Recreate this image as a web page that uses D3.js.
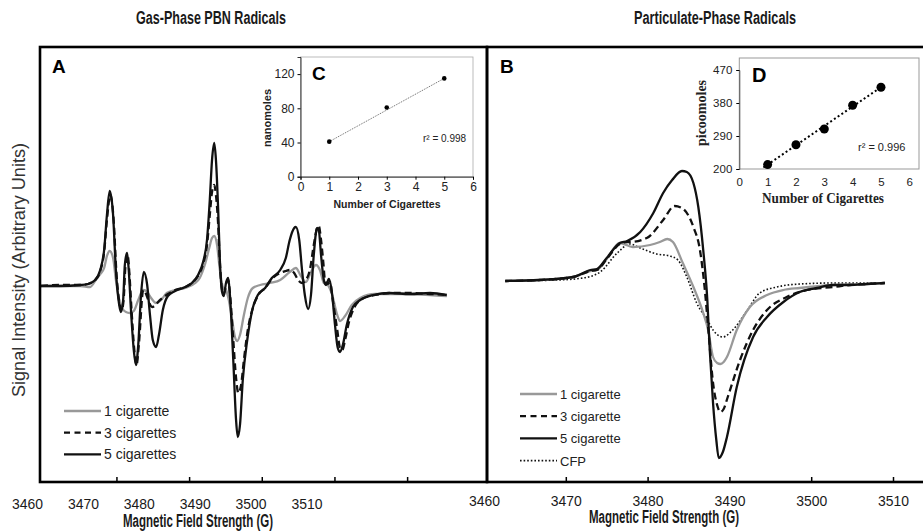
<!DOCTYPE html>
<html>
<head>
<meta charset="utf-8">
<script src="https://cdn.jsdelivr.net/npm/d3@7"></script>
<style>
  body { margin: 0; background: #fff; }
  svg { display: block; font-family: "Liberation Sans", Arial, sans-serif; }
</style>
</head>
<body>
<svg id="chart" width="923" height="531"></svg>
<script>
// ---- datos ----
// Panel A: espectros de radicales PBN (campo en G, señal en unidades arbitrarias)
const gas1 = [[3462.5,-1],[3469.5,-1],[3471.3,-2],[3472.3,5],[3473.1,11],[3473.8,17],[3474.3,29],[3474.8,34],[3475.4,27],[3475.9,5],[3476.5,-15],[3477.0,-23],[3477.7,-27],[3478.4,-28],[3479.1,-26],[3479.9,-15],[3480.8,-5],[3481.5,-7],[3482.2,-13],[3483.1,-18],[3484.0,-15],[3485.0,-8],[3486.5,-5],[3488.3,-3],[3490.1,2],[3490.9,7],[3491.8,20],[3492.6,37],[3493.1,47],[3493.5,49],[3494.0,40],[3494.5,15],[3495.1,-3],[3495.6,-5],[3496.1,-15],[3496.7,-35],[3497.2,-52],[3497.6,-56],[3498.1,-50],[3498.8,-30],[3499.5,-13],[3500.4,-3],[3501.7,0],[3503.5,2],[3505.3,5],[3507.0,13],[3508.1,17],[3509.0,9],[3509.9,3],[3510.8,13],[3511.7,20],[3512.4,15],[3513.1,2],[3513.8,0],[3514.6,-10],[3515.5,-30],[3516.0,-36],[3516.9,-31],[3518.1,-20],[3519.6,-13],[3522.3,-9],[3526.7,-9],[3532.1,-10],[3535.1,-11]];
const gas3 = [[3462.5,-1],[3465.9,0],[3469.5,0],[3470.9,1],[3472.2,5],[3473.1,14],[3473.8,33],[3474.3,65],[3474.9,90],[3475.5,65],[3476.0,12],[3476.6,-20],[3476.9,-26],[3477.3,-14],[3477.6,18],[3478.0,30],[3478.3,13],[3478.7,-25],[3479.2,-65],[3479.6,-80],[3480.0,-60],[3480.8,-5],[3482.4,-22],[3483.8,-15],[3485.2,-9],[3486.5,-5],[3488.3,-2],[3489.5,2],[3490.6,9],[3491.5,21],[3492.2,40],[3492.7,70],[3493.1,93],[3493.5,100],[3493.8,90],[3494.2,60],[3494.5,23],[3494.9,-5],[3495.2,-9],[3495.6,1],[3496.0,5],[3496.3,-8],[3496.9,-55],[3497.4,-93],[3497.8,-108],[3498.3,-100],[3498.8,-75],[3499.5,-45],[3500.4,-23],[3501.5,-9],[3502.6,-3],[3503.8,6],[3505.3,12],[3506.3,14],[3507.0,15],[3507.8,12],[3508.5,5],[3509.2,2],[3509.9,5],[3510.6,15],[3511.3,40],[3511.9,57],[3512.2,59],[3512.6,45],[3513.0,23],[3513.3,5],[3513.8,1],[3514.2,3],[3514.7,-15],[3515.5,-45],[3516.0,-63],[3516.4,-65],[3516.9,-55],[3517.6,-37],[3518.7,-21],[3519.9,-14],[3522.3,-10],[3524.9,-8],[3528.5,-8],[3532.1,-9],[3535.1,-10]];
const gas5 = [[3462.5,-1],[3465.9,-1],[3469.5,0],[3470.9,1],[3472.2,5],[3473.1,15],[3473.8,35],[3474.3,70],[3474.8,94],[3475.4,70],[3475.9,15],[3476.5,-20],[3476.8,-27],[3477.2,-15],[3477.5,20],[3477.9,32],[3478.2,15],[3478.6,-25],[3479.1,-65],[3479.5,-80],[3479.9,-60],[3480.4,-10],[3480.9,13],[3481.5,0],[3482.0,-30],[3482.5,-55],[3483.1,-62],[3483.6,-50],[3484.3,-25],[3485.2,-11],[3486.5,-6],[3488.3,-2],[3489.5,2],[3490.6,10],[3491.5,23],[3492.2,45],[3492.7,85],[3493.1,125],[3493.5,142],[3493.8,125],[3494.2,75],[3494.5,25],[3494.9,-7],[3495.2,-11],[3495.6,2],[3496.0,7],[3496.3,-10],[3496.9,-75],[3497.4,-135],[3497.7,-152],[3498.1,-140],[3498.6,-95],[3499.4,-55],[3500.3,-25],[3501.3,-10],[3502.6,-3],[3503.8,7],[3505.3,15],[3506.3,27],[3507.0,45],[3507.8,57],[3508.1,58],[3508.7,45],[3509.2,15],[3509.7,-10],[3510.3,-24],[3510.8,-10],[3511.3,30],[3511.9,57],[3512.2,55],[3512.6,30],[3513.1,5],[3513.5,0],[3514.0,6],[3514.6,-10],[3515.1,-40],[3515.6,-63],[3516.0,-67],[3516.5,-60],[3517.2,-40],[3518.3,-22],[3519.6,-15],[3521.9,-10],[3524.9,-8],[3528.5,-9],[3532.1,-8],[3535.1,-10]];

// Panel B: radicales en fase particulada
const part1 = [[3462.6,4],[3466.8,5],[3470.9,8],[3473.0,14],[3473.8,15],[3475.0,26],[3476.6,42],[3478.2,38],[3480.3,40],[3481.5,43],[3482.4,46],[3483.1,43],[3484.3,22],[3485.6,-2],[3486.8,-28],[3487.4,-45],[3488.0,-72],[3488.5,-78],[3488.9,-79],[3489.3,-77],[3489.7,-72],[3490.9,-45],[3492.5,-22],[3494.6,-10],[3496.6,-5],[3498.6,-3],[3502.7,0],[3506.8,1],[3509.0,2]];
const part3 = [[3462.6,4],[3466.8,5],[3470.9,8],[3473.0,14],[3473.8,15],[3475.0,26],[3476.6,41],[3477.5,43],[3477.8,43],[3479.9,47],[3481.9,65],[3483.3,79],[3484.2,77],[3485.6,58],[3486.4,35],[3487.0,-5],[3487.4,-42],[3488.0,-98],[3488.5,-120],[3488.9,-127],[3489.3,-124],[3489.8,-112],[3491.3,-75],[3492.9,-45],[3494.6,-25],[3497.0,-12],[3499.5,-5],[3502.7,-2],[3504.7,0],[3506.8,1],[3509.0,2]];
const part5 = [[3462.6,4],[3466.8,5],[3470.9,8],[3473.0,15],[3473.8,16],[3475.0,27],[3476.6,42],[3477.5,44],[3479.1,53],[3480.7,72],[3481.9,92],[3483.0,105],[3484.2,114],[3484.8,113],[3485.6,102],[3486.2,78],[3486.8,35],[3487.3,-15],[3487.6,-65],[3488.0,-118],[3488.4,-155],[3488.7,-173],[3489.2,-167],[3489.7,-152],[3490.9,-102],[3492.9,-52],[3494.6,-32],[3496.6,-17],[3498.6,-7],[3500.7,-3],[3502.7,0],[3504.7,0],[3506.8,1],[3509.0,2]];
const cfp = [[3462.6,4],[3468.9,5],[3472.1,7],[3474.2,13],[3476.3,32],[3477.8,41],[3479.1,37],[3481.1,31],[3482.7,29],[3483.7,25],[3484.8,8],[3486.0,-18],[3487.3,-35],[3488.0,-45],[3489.2,-52],[3490.4,-45],[3492.2,-25],[3493.7,-8],[3495.8,-2],[3498.6,1],[3502.7,2],[3509.0,2]];

const fieldTicks = [3460, 3470, 3480, 3490, 3500, 3510];
const frameTicksA = [3476, 3489, 3502, 3515, 3528];
const frameTicksB = [3470, 3480, 3490, 3500, 3510];

// Inset C: nanomoles vs número de cigarrillos
const cigC = [1, 3, 5];
const nmolC = [41, 81, 115];
// Inset D: picomoles vs número de cigarrillos
const cigD = [1, 2, 3, 4, 5];
const pmolD = [212, 266, 309, 374, 423];

const svg = d3.select("#chart");

// Texto "estrecho" (tipo Arial Narrow) comprimiendo Liberation Sans
function narrowText(x, y, txt, size, len, weight) {
  return svg.append("text").attr("x", x).attr("y", y)
    .attr("text-anchor", "middle").attr("font-size", size)
    .attr("font-weight", weight || "bold").attr("fill", "#1a1a1a")
    .attr("textLength", len).attr("lengthAdjust", "spacingAndGlyphs")
    .text(txt);
}

// Títulos de columna
narrowText(211, 24, "Gas-Phase PBN Radicals", 18, 150);
narrowText(715, 24, "Particulate-Phase Radicals", 18, 162);

// Escalas
const xA = d3.scaleLinear().domain([3460, 3510]).range([27, 306.5]);
const xB = d3.scaleLinear().domain([3460, 3510]).range([484, 893]);
const yS = d3.scaleLinear().domain([-200, 200]).range([485, 85]);

const line = (xs) => d3.line().x(d => xs(d[0])).y(d => yS(d[1])).curve(d3.curveMonotoneX);

// Estilos de serie
function drawSeries(g, data, xs, style) {
  g.append("path").datum(data)
    .attr("fill", "none")
    .attr("stroke", style.color)
    .attr("stroke-width", style.width)
    .attr("stroke-dasharray", style.dash)
    .attr("stroke-linejoin", "round")
    .attr("d", line(xs));
}
const sGrey = {color: "#999", width: 2.3, dash: null};
const sDash = {color: "#111", width: 2.3, dash: "7,4"};
const sSolid = {color: "#111", width: 2.3, dash: null};
const sDot = {color: "#111", width: 1.6, dash: "1.6,2"};

// Panel A
const gA = svg.append("g");
drawSeries(gA, gas1, xA, sGrey);
drawSeries(gA, gas3, xA, sDash);
drawSeries(gA, gas5, xA, sSolid);

// Panel B
const gB = svg.append("g");
drawSeries(gB, cfp, xB, sDot);
drawSeries(gB, part1, xB, sGrey);
drawSeries(gB, part3, xB, sDash);
drawSeries(gB, part5, xB, sSolid);

// Marcos
const frameTop = 47, frameBottom = 482;
svg.append("rect").attr("x", 40).attr("y", frameTop).attr("width", 447).attr("height", frameBottom - frameTop)
  .attr("fill", "none").attr("stroke", "#000").attr("stroke-width", 2.6);
svg.append("rect").attr("x", 487).attr("y", frameTop).attr("width", 445).attr("height", frameBottom - frameTop)
  .attr("fill", "none").attr("stroke", "#000").attr("stroke-width", 2.6);

// Marcas internas sobre el borde inferior
svg.append("g").attr("transform", `translate(0,${frameBottom})`)
  .call(d3.axisTop(xA).tickValues(frameTicksA).tickSize(5).tickFormat(""))
  .call(g => g.select(".domain").remove())
  .selectAll("line").attr("stroke", "#000").attr("stroke-width", 1.5);
svg.append("g").attr("transform", `translate(0,${frameBottom})`)
  .call(d3.axisTop(xB).tickValues(frameTicksB).tickSize(5).tickFormat(""))
  .call(g => g.select(".domain").remove())
  .selectAll("line").attr("stroke", "#000").attr("stroke-width", 1.5);

// Etiquetas del eje de campo
function fieldAxis(xs, y) {
  svg.append("g").attr("transform", `translate(0,${y})`)
    .call(d3.axisBottom(xs).tickValues(fieldTicks).tickSize(0).tickPadding(4).tickFormat(d3.format("d")))
    .call(g => g.select(".domain").remove())
    .selectAll("text")
    .style("font-family", "'Liberation Sans', Arial, sans-serif")
    .attr("font-size", 15).attr("fill", "#1a1a1a")
    .attr("textLength", 31).attr("lengthAdjust", "spacingAndGlyphs");
}
fieldAxis(xA, 494);
fieldAxis(xB, 491);

narrowText(198, 527, "Magnetic Field Strength (G)", 18, 150);
narrowText(664, 523, "Magnetic Field Strength (G)", 18, 150);

svg.append("text").attr("transform", "translate(25,270) rotate(-90)")
  .attr("text-anchor", "middle").attr("font-size", 17.5).attr("fill", "#333")
  .attr("textLength", 254).attr("lengthAdjust", "spacingAndGlyphs")
  .text("Signal Intensity (Arbitrary Units)");

svg.append("text").attr("x", 52).attr("y", 73).attr("font-size", 19).attr("font-weight", "bold").text("A");
svg.append("text").attr("x", 500).attr("y", 73).attr("font-size", 19).attr("font-weight", "bold").text("B");

// Leyendas
function legend(items, x0, y0, dy, fs) {
  items.forEach((it, i) => {
    const y = y0 + i * dy;
    svg.append("line").attr("x1", x0).attr("x2", x0 + 37).attr("y1", y).attr("y2", y)
      .attr("stroke", it.s.color).attr("stroke-width", it.s.width)
      .attr("stroke-dasharray", it.s.dash === "7,4" ? "6,4.5" : it.s.dash);
    svg.append("text").attr("x", x0 + 40).attr("y", y + 5).attr("font-size", fs)
      .attr("fill", "#222").text(it.label);
  });
}
legend([{s: sGrey, label: "1 cigarette"}, {s: sDash, label: "3 cigarettes"}, {s: sSolid, label: "5 cigarettes"}], 64, 411, 21.7, 14);
legend([{s: sGrey, label: "1 cigarette"}, {s: sDash, label: "3 cigarette"}, {s: sSolid, label: "5 cigarette"}, {s: sDot, label: "CFP"}], 520, 394, 22.2, 13);

// Inset C
{
  const x = d3.scaleLinear().domain([0, 6]).range([300.5, 473]);
  const y = d3.scaleLinear().domain([0, 140]).range([176.7, 57]);
  const g = svg.append("g");
  g.append("rect").attr("x", x(0)).attr("y", y(140)).attr("width", x(6) - x(0)).attr("height", y(0) - y(140))
    .attr("fill", "#fff").attr("stroke", "#aaa").attr("stroke-width", 0.8);
  g.append("g").attr("transform", `translate(0,${y(0)})`)
    .call(d3.axisBottom(x).ticks(6).tickSize(3).tickPadding(3))
    .call(a => a.selectAll("text").attr("font-size", 12).attr("fill", "#222").style("font-family", "Liberation Sans, Arial"))
    .call(a => a.select(".domain").attr("stroke", "#333"));
  g.append("g").attr("transform", `translate(${x(0)},0)`)
    .call(d3.axisLeft(y).tickValues([0, 40, 80, 120]).tickSize(3).tickPadding(3))
    .call(a => a.selectAll("text").attr("font-size", 12).attr("fill", "#222").style("font-family", "Liberation Sans, Arial"))
    .call(a => a.select(".domain").attr("stroke", "#333"));
  const pts = cigC.map((c, i) => [c, nmolC[i]]);
  g.append("line").attr("x1", x(pts[0][0])).attr("y1", y(pts[0][1]))
    .attr("x2", x(pts[pts.length - 1][0])).attr("y2", y(pts[pts.length - 1][1]))
    .attr("stroke", "#555").attr("stroke-width", 0.9).attr("stroke-dasharray", "1,1");
  g.selectAll("circle").data(pts).join("circle")
    .attr("cx", d => x(d[0])).attr("cy", d => y(d[1])).attr("r", 2.3).attr("fill", "#000");
  g.append("text").attr("x", 312).attr("y", 80).attr("font-size", 19).attr("font-weight", "bold").text("C");
  g.append("text").attr("x", 423).attr("y", 142).attr("font-size", 10).attr("fill", "#222").text("r² = 0.998");
  g.append("text").attr("x", 387).attr("y", 208).attr("text-anchor", "middle")
    .attr("font-size", 11).attr("font-weight", "bold").attr("fill", "#222")
    .attr("textLength", 107).attr("lengthAdjust", "spacingAndGlyphs").text("Number of Cigarettes");
  g.append("text").attr("transform", "translate(271,118) rotate(-90)").attr("text-anchor", "middle")
    .attr("font-size", 11).attr("font-weight", "bold").attr("fill", "#222").text("nanomoles");
}

// Inset D
{
  const x = d3.scaleLinear().domain([0, 6]).range([739.3, 909.3]);
  const y = d3.scaleLinear().domain([200, 470]).range([169, 70]);
  const g = svg.append("g");
  g.append("rect").attr("x", 739.3).attr("y", 58).attr("width", 919 - 739.3).attr("height", 169 - 58)
    .attr("fill", "#fff").attr("stroke", "#999").attr("stroke-width", 1);
  g.append("g").attr("transform", `translate(0,169)`)
    .call(d3.axisBottom(x).ticks(6).tickSize(0).tickPadding(9))
    .call(a => a.selectAll("text").attr("font-size", 11.5).attr("fill", "#222"))
    .call(a => a.select(".domain").remove());
  g.append("g").attr("transform", `translate(739.3,0)`)
    .call(d3.axisLeft(y).tickValues([200, 290, 380, 470]).tickSize(3).tickPadding(4))
    .call(a => a.selectAll("text").attr("font-size", 11.5).attr("fill", "#222"))
    .call(a => a.select(".domain").attr("stroke", "#555"));
  const pts = cigD.map((c, i) => [c, pmolD[i]]);
  const fit = d3.scaleLinear().domain(d3.extent(cigD)).range([pts[0][1], pts[pts.length - 1][1]]);
  g.append("line").attr("x1", x(0.85)).attr("y1", y(fit(0.85)))
    .attr("x2", x(5)).attr("y2", y(fit(5)))
    .attr("stroke", "#000").attr("stroke-width", 2).attr("stroke-dasharray", "2,2.5");
  g.selectAll("circle").data(pts).join("circle")
    .attr("cx", d => x(d[0])).attr("cy", d => y(d[1])).attr("r", 4.5).attr("fill", "#000");
  g.append("text").attr("x", 752).attr("y", 82).attr("font-size", 20).attr("font-weight", "bold").text("D");
  g.append("text").attr("x", 858).attr("y", 151).attr("font-size", 11).attr("fill", "#222").text("r² = 0.996");
  g.append("text").attr("x", 823).attr("y", 203).attr("text-anchor", "middle")
    .style("font-family", "'Liberation Serif', 'Times New Roman', serif")
    .attr("font-size", 14.5).attr("font-weight", "bold").attr("fill", "#222")
    .attr("textLength", 122).attr("lengthAdjust", "spacingAndGlyphs").text("Number of Cigarettes");
  g.append("text").attr("transform", "translate(706,113) rotate(-90)").attr("text-anchor", "middle")
    .style("font-family", "'Liberation Serif', 'Times New Roman', serif")
    .attr("font-size", 14).attr("font-weight", "bold").attr("fill", "#222").text("picoomoles");
}
</script>
</body>
</html>
